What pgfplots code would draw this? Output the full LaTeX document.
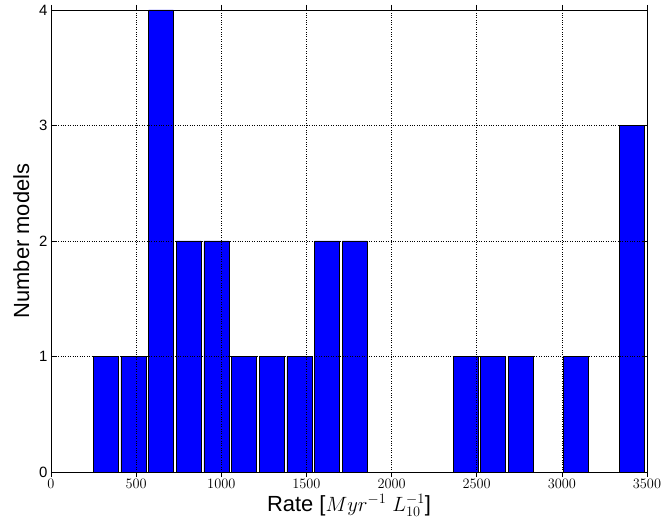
\documentclass[border=0pt]{standalone}
\usepackage{fontspec}
\setmainfont{Liberation Sans}
\usepackage{pgfplots}
\pgfplotsset{compat=1.18}
\begin{document}
\begin{tikzpicture}
\begin{axis}[
  scale only axis,
  width=596bp, height=462bp,
  xmin=0, xmax=3500, ymin=0, ymax=4,
  xtick={0,500,...,3500},
  ytick={0,1,2,3,4},
  /pgf/number format/1000 sep={},
  grid=major,
  major grid style={black, dotted, line width=0.6pt},
  axis on top,
  axis line style={black, line width=0.8pt},
  tick align=inside,
  major tick length=5bp,
  tick style={black, line width=0.6pt},
  xticklabel style={font=\fontsize{15}{17}\selectfont, yshift=1bp},
  yticklabel style={font=\fontsize{15}{17}\selectfont, /pgf/number format/assume math mode=true},
  xlabel={Rate [$Myr^{-1}\ L_{10}^{-1}$]},
  ylabel={Number models},
  label style={font=\fontsize{22}{26}\selectfont},
  xlabel style={yshift=1bp},
  ylabel style={yshift=3bp},
  ybar, bar width=146, bar shift=0pt,
]
\addplot[fill={rgb,255:red,0;green,0;blue,255}, draw=black, line width=0.6pt] coordinates {
(321.25,1) (483.75,1) (646.25,4) (808.75,2) (971.25,2)
(1133.75,1) (1296.25,1) (1458.75,1) (1621.25,2) (1783.75,2)
(1946.25,0) (2108.75,0) (2271.25,0) (2433.75,1) (2596.25,1)
(2758.75,1) (2921.25,0) (3083.75,1) (3246.25,0) (3408.75,3)
};
\end{axis}
\pgfresetboundingbox
\path (-51bp,-51bp) rectangle (611bp,472bp);
\end{tikzpicture}
\end{document}
